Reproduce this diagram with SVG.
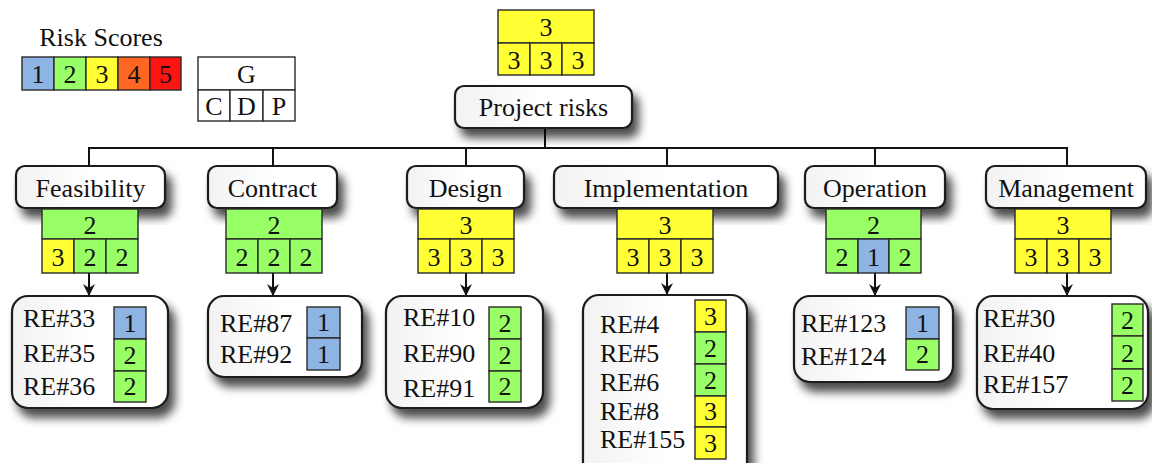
<svg xmlns="http://www.w3.org/2000/svg" width="1152" height="463" viewBox="0 0 1152 463" font-family="'Liberation Serif', 'Times New Roman', serif">
<style>
text{font-family:"Liberation Serif","Times New Roman",serif;fill:#111}
.lbl{font-size:26px;text-anchor:middle}
.rt{font-size:26px}
.num{font-size:26px;text-anchor:middle}
.box{fill:url(#bg);stroke:#1a1a1a;stroke-width:2.2;filter:url(#sh)}
.c{stroke:#2a2a2a;stroke-width:1.4}
.s1{fill:#8DB4E2}.s2{fill:#99FF66}.s3{fill:#FFFF33}.s4{fill:#FF6622}.s5{fill:#FF1414}.s0{fill:#fff}
.ln{fill:none;stroke:#111;stroke-width:2}
</style>
<defs>
<linearGradient id="bg" x1="0" y1="0" x2="1" y2="0">
<stop offset="0" stop-color="#f2f2f2"/><stop offset="0.5" stop-color="#ffffff"/><stop offset="1" stop-color="#ffffff"/>
</linearGradient>
<filter id="sh" x="-20%" y="-30%" width="150%" height="170%">
<feDropShadow dx="6" dy="9" stdDeviation="5" flood-color="#000" flood-opacity="0.7"/>
</filter>
<marker id="ar" viewBox="0 0 12 12" refX="11" refY="6" markerWidth="12" markerHeight="12" markerUnits="userSpaceOnUse" orient="auto">
<path d="M0,0 L12,6 L0,12 L4,6 z" fill="#111"/>
</marker>
</defs>
<rect width="1152" height="463" fill="#fff"/>

<g id="legend">
<text x="101" y="46" class="lbl">Risk Scores</text>
<rect x="22" y="57" width="32" height="33" class="c s1"/><text x="38" y="83" class="num">1</text>
<rect x="54" y="57" width="32" height="33" class="c s2"/><text x="70" y="83" class="num">2</text>
<rect x="86" y="57" width="32" height="33" class="c s3"/><text x="102" y="83" class="num">3</text>
<rect x="118" y="57" width="32" height="33" class="c s4"/><text x="134" y="83" class="num">4</text>
<rect x="150" y="57" width="31" height="33" class="c s5"/><text x="165.5" y="83" class="num">5</text>
</g>
<g id="legend-key">
<rect x="198" y="57" width="97" height="33" class="c s0"/><text x="246.5" y="83" class="num">G</text>
<rect x="198" y="90" width="32" height="31" class="c s0"/><text x="214" y="115" class="num">C</text>
<rect x="230" y="90" width="33" height="31" class="c s0"/><text x="246.5" y="115" class="num">D</text>
<rect x="263" y="90" width="32" height="31" class="c s0"/><text x="279" y="115" class="num">P</text>
</g>

<g id="connectors">
<path class="ln" d="M545,128 V148 M89,148 H1067 M89,147 V166 M273,148 V166 M466,148 V166 M667,148 V166 M875,148 V166 M1067,147 V166"/>
<path class="ln" d="M89,273 V295" marker-end="url(#ar)"/>
<path class="ln" d="M273,273 V295" marker-end="url(#ar)"/>
<path class="ln" d="M466,273 V295" marker-end="url(#ar)"/>
<path class="ln" d="M667,273 V294" marker-end="url(#ar)"/>
<path class="ln" d="M875,273 V295" marker-end="url(#ar)"/>
<path class="ln" d="M1067,273 V295" marker-end="url(#ar)"/>
</g>

<g id="project">
<rect x="498" y="10" width="96" height="33" class="c s3"/><text x="546" y="36" class="num">3</text>
<rect x="498" y="43" width="32" height="32" class="c s3"/><text x="514" y="69" class="num">3</text>
<rect x="530" y="43" width="32" height="32" class="c s3"/><text x="546" y="69" class="num">3</text>
<rect x="562" y="43" width="32" height="32" class="c s3"/><text x="578" y="69" class="num">3</text>
<rect x="455" y="86" width="177" height="42" rx="9" class="box"/>
<text x="543.5" y="116" class="lbl">Project risks</text>
</g>

<g id="feasibility">
<rect x="16" y="166" width="149" height="42" rx="9" class="box"/>
<text x="90.5" y="197" class="lbl">Feasibility</text>
<rect x="42" y="209" width="96" height="30" class="c s2"/><text x="90" y="234" class="num">2</text>
<rect x="42" y="239" width="32" height="34" class="c s3"/><text x="58" y="266" class="num">3</text>
<rect x="74" y="239" width="32" height="34" class="c s2"/><text x="90" y="266" class="num">2</text>
<rect x="106" y="239" width="32" height="34" class="c s2"/><text x="122" y="266" class="num">2</text>
</g>
<g id="feasibility-risks">
<rect x="12" y="296" width="156" height="112" rx="16" class="box"/>
<text x="23" y="327" class="rt" font-family="Liberation Serif">RE#33</text>
<text x="23" y="362" class="rt" font-family="Liberation Serif">RE#35</text>
<text x="23" y="395" class="rt" font-family="Liberation Serif">RE#36</text>
<rect x="114" y="307" width="32" height="32" class="c s1"/><text x="130" y="332" class="num">1</text>
<rect x="114" y="339" width="32" height="32" class="c s2"/><text x="130" y="364" class="num">2</text>
<rect x="114" y="371" width="32" height="31" class="c s2"/><text x="130" y="395" class="num">2</text>
</g>

<g id="contract">
<rect x="208" y="166" width="129" height="42" rx="9" class="box"/>
<text x="272.5" y="197" class="lbl">Contract</text>
<rect x="226" y="209" width="96" height="30" class="c s2"/><text x="274" y="234" class="num">2</text>
<rect x="226" y="239" width="32" height="34" class="c s2"/><text x="242" y="266" class="num">2</text>
<rect x="258" y="239" width="32" height="34" class="c s2"/><text x="274" y="266" class="num">2</text>
<rect x="290" y="239" width="32" height="34" class="c s2"/><text x="306" y="266" class="num">2</text>
</g>
<g id="contract-risks">
<rect x="208" y="296" width="154" height="81" rx="16" class="box"/>
<text x="220" y="332" class="rt" font-family="Liberation Serif">RE#87</text>
<text x="220" y="363" class="rt" font-family="Liberation Serif">RE#92</text>
<rect x="307" y="307" width="33" height="31" class="c s1"/><text x="323.5" y="331" class="num">1</text>
<rect x="307" y="338" width="33" height="32" class="c s1"/><text x="323.5" y="363" class="num">1</text>
</g>

<g id="design">
<rect x="407" y="166" width="117" height="42" rx="9" class="box"/>
<text x="465.5" y="197" class="lbl">Design</text>
<rect x="418" y="209" width="96" height="30" class="c s3"/><text x="466" y="234" class="num">3</text>
<rect x="418" y="239" width="32" height="34" class="c s3"/><text x="434" y="266" class="num">3</text>
<rect x="450" y="239" width="32" height="34" class="c s3"/><text x="466" y="266" class="num">3</text>
<rect x="482" y="239" width="32" height="34" class="c s3"/><text x="498" y="266" class="num">3</text>
</g>
<g id="design-risks">
<rect x="386" y="296" width="157" height="112" rx="16" class="box"/>
<text x="403" y="326" class="rt" font-family="Liberation Serif">RE#10</text>
<text x="403" y="362" class="rt" font-family="Liberation Serif">RE#90</text>
<text x="403" y="397" class="rt" font-family="Liberation Serif">RE#91</text>
<rect x="489" y="307" width="32" height="32" class="c s2"/><text x="505" y="332" class="num">2</text>
<rect x="489" y="339" width="32" height="32" class="c s2"/><text x="505" y="364" class="num">2</text>
<rect x="489" y="371" width="32" height="31" class="c s2"/><text x="505" y="395" class="num">2</text>
</g>

<g id="implementation">
<rect x="554" y="166" width="224" height="42" rx="9" class="box"/>
<text x="666" y="197" class="lbl">Implementation</text>
<rect x="617" y="209" width="96" height="30" class="c s3"/><text x="665" y="234" class="num">3</text>
<rect x="617" y="239" width="32" height="34" class="c s3"/><text x="633" y="266" class="num">3</text>
<rect x="649" y="239" width="32" height="34" class="c s3"/><text x="665" y="266" class="num">3</text>
<rect x="681" y="239" width="32" height="34" class="c s3"/><text x="697" y="266" class="num">3</text>
</g>
<g id="implementation-risks">
<rect x="583" y="295" width="164" height="185" rx="16" class="box"/>
<text x="600" y="333" class="rt" font-family="Liberation Serif">RE#4</text>
<text x="600" y="362" class="rt" font-family="Liberation Serif">RE#5</text>
<text x="600" y="391" class="rt" font-family="Liberation Serif">RE#6</text>
<text x="600" y="420" class="rt" font-family="Liberation Serif">RE#8</text>
<text x="600" y="448" class="rt" font-family="Liberation Serif">RE#155</text>
<rect x="695" y="300" width="31" height="32" class="c s3"/><text x="710.5" y="325" class="num">3</text>
<rect x="695" y="332" width="31" height="32" class="c s2"/><text x="710.5" y="357" class="num">2</text>
<rect x="695" y="364" width="31" height="32" class="c s2"/><text x="710.5" y="389" class="num">2</text>
<rect x="695" y="396" width="31" height="31" class="c s3"/><text x="710.5" y="420" class="num">3</text>
<rect x="695" y="427" width="31" height="32" class="c s3"/><text x="710.5" y="452" class="num">3</text>
</g>

<g id="operation">
<rect x="805" y="166" width="140" height="42" rx="9" class="box"/>
<text x="875" y="197" class="lbl">Operation</text>
<rect x="826" y="209" width="95" height="30" class="c s2"/><text x="873.5" y="234" class="num">2</text>
<rect x="826" y="239" width="32" height="34" class="c s2"/><text x="842" y="266" class="num">2</text>
<rect x="858" y="239" width="31" height="34" class="c s1"/><text x="873.5" y="266" class="num">1</text>
<rect x="889" y="239" width="32" height="34" class="c s2"/><text x="905" y="266" class="num">2</text>
</g>
<g id="operation-risks">
<rect x="794" y="296" width="159" height="86" rx="16" class="box"/>
<text x="801" y="332" class="rt" font-family="Liberation Serif">RE#123</text>
<text x="801" y="365" class="rt" font-family="Liberation Serif">RE#124</text>
<rect x="906" y="307" width="33" height="32" class="c s1"/><text x="922.5" y="332" class="num">1</text>
<rect x="906" y="339" width="33" height="31" class="c s2"/><text x="922.5" y="363" class="num">2</text>
</g>

<g id="management">
<rect x="986" y="166" width="160" height="42" rx="9" class="box"/>
<text x="1066" y="197" class="lbl">Management</text>
<rect x="1015" y="209" width="96" height="30" class="c s3"/><text x="1063" y="234" class="num">3</text>
<rect x="1015" y="239" width="32" height="34" class="c s3"/><text x="1031" y="266" class="num">3</text>
<rect x="1047" y="239" width="32" height="34" class="c s3"/><text x="1063" y="266" class="num">3</text>
<rect x="1079" y="239" width="32" height="34" class="c s3"/><text x="1095" y="266" class="num">3</text>
</g>
<g id="management-risks">
<rect x="977" y="296" width="171" height="113" rx="16" class="box"/>
<text x="983" y="327" class="rt" font-family="Liberation Serif">RE#30</text>
<text x="983" y="362" class="rt" font-family="Liberation Serif">RE#40</text>
<text x="983" y="393" class="rt" font-family="Liberation Serif">RE#157</text>
<rect x="1112" y="304" width="31" height="32" class="c s2"/><text x="1127.5" y="329" class="num">2</text>
<rect x="1112" y="336" width="31" height="33" class="c s2"/><text x="1127.5" y="362" class="num">2</text>
<rect x="1112" y="369" width="31" height="32" class="c s2"/><text x="1127.5" y="394" class="num">2</text>
</g>
</svg>
